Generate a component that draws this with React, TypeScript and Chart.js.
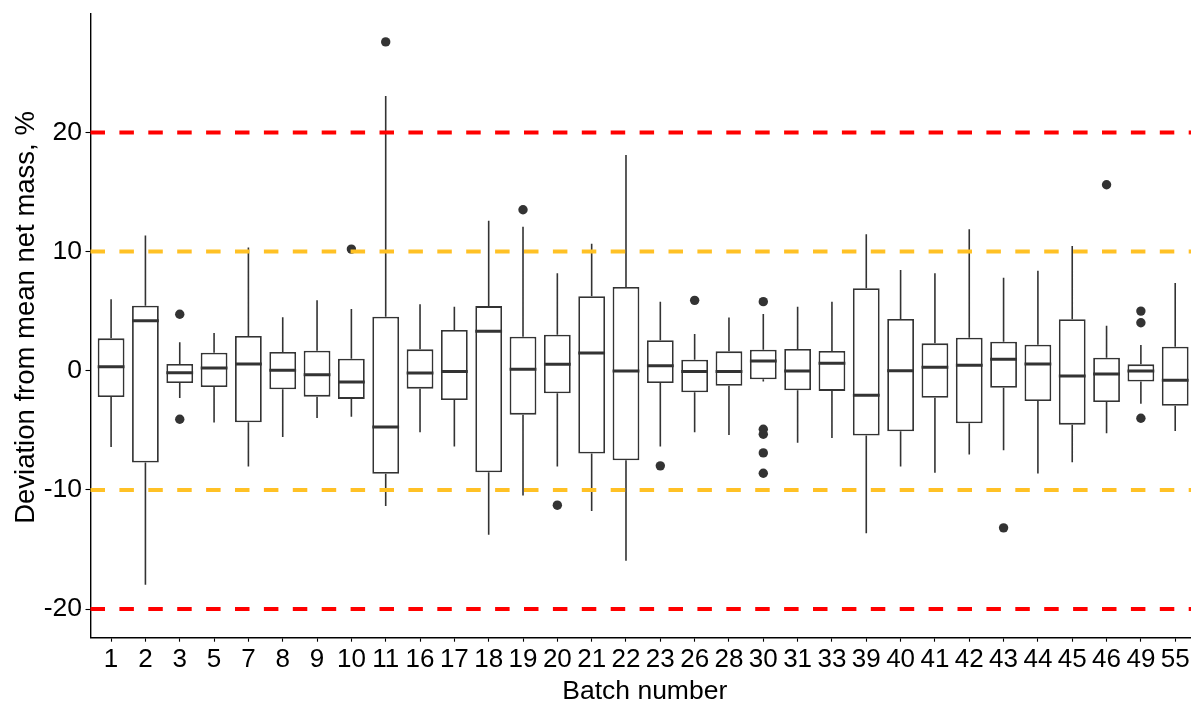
import { useEffect, useRef } from 'react';
import { Chart, registerables } from 'chart.js';

Chart.register(...registerables);

// Batch labels along the x axis
const batches = [
  '1', '2', '3', '5', '7', '8', '9', '10', '11', '16', '17', '18', '19', '20', '21', '22',
  '23', '26', '28', '30', '31', '33', '39', '40', '41', '42', '43', '44', '45', '46', '49', '55',
];

// Five-number summaries per batch (deviation from mean net mass, %)
const whiskerHigh = [
  6.0, 11.36, 2.39, 3.17, 10.35, 4.5, 5.91, 5.18, 23.07, 5.58, 5.38, 12.59, 12.08, 8.18, 10.66, 18.1,
  5.8, 3.09, 4.48, 4.76, 5.38, 5.8, 11.45, 8.45, 8.18, 11.87, 7.81, 8.39, 10.47, 3.77, 2.16, 7.36,
];
const q3 = [
  2.72, 5.46, 0.57, 1.52, 2.92, 1.58, 1.69, 1.01, 4.54, 1.8, 3.42, 5.43, 2.86, 3.03, 6.25, 7.03,
  2.56, 0.93, 1.63, 1.77, 1.83, 1.66, 6.92, 4.34, 2.3, 2.78, 2.44, 2.19, 4.32, 1.1, 0.54, 2.02,
];
const median = [
  0.34, 4.2, -0.16, 0.23, 0.57, 0.04, -0.33, -0.94, -4.71, -0.18, -0.07, 3.31, 0.12, 0.54, 1.49, -0.02,
  0.43, -0.07, -0.07, 0.82, -0.02, 0.63, -2.06, 0.01, 0.3, 0.46, 0.96, 0.57, -0.44, -0.27, -0.02, -0.8,
];
const q1 = [
  -2.2, -7.7, -1.02, -1.36, -4.32, -1.55, -2.17, -2.36, -8.65, -1.5, -2.45, -8.51, -3.68, -1.89, -6.95, -7.51,
  -1.02, -1.81, -1.25, -0.72, -1.64, -1.69, -5.44, -5.08, -2.27, -4.4, -1.42, -2.53, -4.52, -2.62, -0.91, -2.93,
];
const whiskerLow = [
  -6.4, -17.96, -2.28, -4.35, -8.04, -5.55, -3.96, -3.85, -11.34, -5.16, -6.36, -13.77, -10.47, -8.04, -11.76, -15.95,
  -6.36, -5.16, -5.38, -0.9, -6.03, -5.64, -13.63, -8.04, -8.55, -7.03, -6.67, -8.63, -7.67, -5.24, -2.76, -5.05,
];

// Outlying observations per batch
const outliers: number[][] = [
  [], [], [4.74, -4.07], [], [], [], [], [10.21], [27.6], [], [], [], [13.51], [-11.28], [], [],
  [-7.98], [5.91], [], [5.8, -4.91, -5.33, -6.89, -8.6], [], [], [], [], [], [], [-13.18], [], [], [15.61], [5.01, 4.03, -3.98], [],
];

// Tolerance limits drawn as dashed reference lines
const limitValues = [20, 10, -10, -20];
const limitColors = ['#FF0000', '#FFC125', '#FFC125', '#FF0000'];

const yTickValues = [-20, -10, 0, 10, 20];

const xTitle = 'Batch number';
const yTitle = 'Deviation from mean net mass, %';

const INK = '#333333';
const FONT = "'Liberation Sans', Arial, sans-serif";

const boxPlotPlugin = {
  id: 'boxPlotParts',
  beforeDatasetsDraw(chart: any) {
    const { ctx, scales } = chart;
    const x = scales.x;
    const y = scales.y;
    ctx.save();
    ctx.strokeStyle = INK;
    ctx.lineWidth = 1.6;
    ctx.beginPath();
    batches.forEach((_, i) => {
      const px = x.getPixelForValue(i);
      ctx.moveTo(px, y.getPixelForValue(q3[i]));
      ctx.lineTo(px, y.getPixelForValue(whiskerHigh[i]));
      ctx.moveTo(px, y.getPixelForValue(q1[i]));
      ctx.lineTo(px, y.getPixelForValue(whiskerLow[i]));
    });
    ctx.stroke();
    ctx.restore();
  },
  afterDatasetsDraw(chart: any) {
    const { ctx, scales, chartArea } = chart;
    const y = scales.y;
    const meta = chart.getDatasetMeta(0);

    // median bars
    ctx.save();
    ctx.strokeStyle = INK;
    ctx.lineWidth = 3;
    ctx.beginPath();
    meta.data.forEach((bar: any, i: number) => {
      const { x: cx, width } = bar.getProps(['x', 'width'], true);
      const py = y.getPixelForValue(median[i]);
      ctx.moveTo(cx - width / 2, py);
      ctx.lineTo(cx + width / 2, py);
    });
    ctx.stroke();
    ctx.restore();

    // dashed limit lines
    ctx.save();
    ctx.lineWidth = 4;
    ctx.setLineDash([14.5, 14.4]);
    limitValues.forEach((v, k) => {
      const py = y.getPixelForValue(v);
      ctx.strokeStyle = limitColors[k];
      ctx.beginPath();
      ctx.moveTo(chartArea.left, py);
      ctx.lineTo(chartArea.right, py);
      ctx.stroke();
    });
    ctx.restore();
  },
  afterDraw(chart: any) {
    // axis titles
    const { ctx, chartArea } = chart;
    ctx.save();
    ctx.fillStyle = '#000000';
    ctx.textAlign = 'center';
    ctx.textBaseline = 'alphabetic';
    ctx.font = `26.5px ${FONT}`;
    ctx.fillText(xTitle, (chartArea.left + chartArea.right) / 2 + 4, 699);
    ctx.translate(34, (chartArea.top + chartArea.bottom) / 2 - 8);
    ctx.rotate(-Math.PI / 2);
    ctx.font = `27.5px ${FONT}`;
    ctx.fillText(yTitle, 0, 0);
    ctx.restore();
  },
};

export default function App() {
  const canvasRef = useRef<HTMLCanvasElement | null>(null);

  useEffect(() => {
    document.body.style.margin = '0';
    const canvas = canvasRef.current;
    if (!canvas) return;

    const boxData = batches.map((_, i) => ({ x: i, y: [q1[i], q3[i]] }));
    const outlierData: { x: number; y: number }[] = [];
    outliers.forEach((list, i) => list.forEach((v) => outlierData.push({ x: i, y: v })));

    const chart = new Chart(canvas, {
      type: 'bar',
      data: {
        datasets: [
          {
            type: 'bar',
            data: boxData as any,
            backgroundColor: '#FFFFFF',
            borderColor: INK,
            borderWidth: 1.8,
            borderSkipped: false,
            categoryPercentage: 1,
            barPercentage: 0.78,
          } as any,
          {
            type: 'scatter',
            data: outlierData,
            pointRadius: 4.7,
            pointBackgroundColor: INK,
            pointBorderWidth: 0,
          } as any,
        ],
      },
      options: {
        animation: false,
        responsive: false,
        devicePixelRatio: 1,
        layout: { autoPadding: false, padding: { top: 13.3, right: 0, bottom: 0, left: 0 } },
        plugins: {
          legend: { display: false },
          tooltip: { enabled: false },
        },
        scales: {
          x: {
            type: 'linear',
            min: -0.6,
            max: 31.46,
            offset: false,
            grid: {
              display: true,
              drawOnChartArea: false,
              drawTicks: true,
              tickLength: 4,
              tickWidth: 1.1,
              tickColor: '#000000',
              offset: false,
            },
            border: { display: true, color: '#000000', width: 1.4 },
            ticks: {
              autoSkip: false,
              maxRotation: 0,
              minRotation: 0,
              padding: 3,
              color: '#000000',
              font: { family: FONT, size: 26 },
              callback: (_v: any, index: number) => batches[index] ?? '',
            },
            afterBuildTicks: (s: any) => {
              s.ticks = batches.map((_, i) => ({ value: i }));
            },
            afterFit: (s: any) => {
              s.height = 64.3;
              s.paddingLeft = 0;
              s.paddingRight = 0;
            },
          },
          y: {
            type: 'linear',
            min: -22.4,
            max: 30.0,
            grid: {
              display: true,
              drawOnChartArea: false,
              drawTicks: true,
              tickLength: 5,
              tickWidth: 1.1,
              tickColor: '#000000',
            },
            border: { display: true, color: '#000000', width: 1.4 },
            ticks: {
              padding: 3.5,
              color: '#000000',
              font: { family: FONT, size: 26.5 },
            },
            afterBuildTicks: (s: any) => {
              s.ticks = yTickValues.map((v) => ({ value: v }));
            },
            afterFit: (s: any) => {
              s.width = 90.5;
              s.paddingTop = 0;
              s.paddingBottom = 0;
            },
          },
        },
      } as any,
      plugins: [boxPlotPlugin],
    });

    return () => chart.destroy();
  }, []);

  return <canvas ref={canvasRef} width={1191} height={702} style={{ display: 'block' }} />;
}
